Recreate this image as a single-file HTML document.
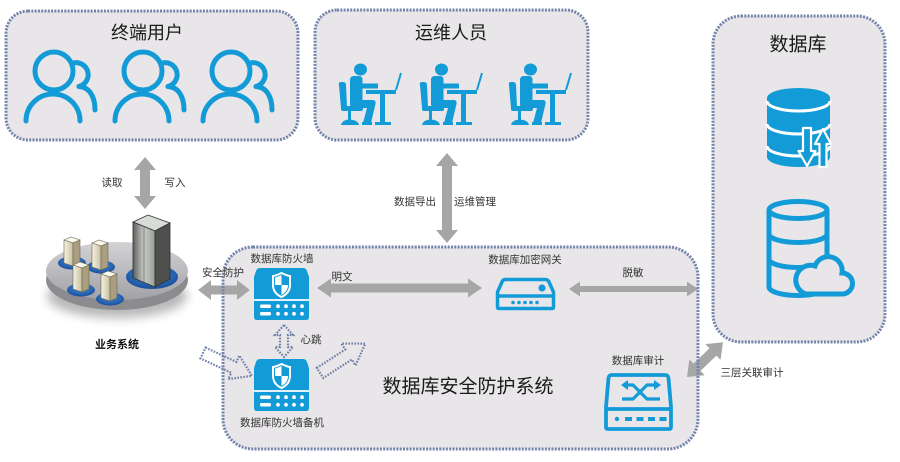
<!DOCTYPE html>
<html><head><meta charset="utf-8"><style>
html,body{margin:0;padding:0;background:#fff;}
svg{display:block;}
text{font-family:"Liberation Sans","Noto Sans CJK SC",sans-serif;}
</style></head><body>
<svg width="900" height="462" viewBox="0 0 900 462" xmlns="http://www.w3.org/2000/svg">
<defs>
  <linearGradient id="plat" x1="0" y1="0" x2="0" y2="1">
    <stop offset="0" stop-color="#d3d3d6"/><stop offset="1" stop-color="#a2a2a6"/>
  </linearGradient>
  <linearGradient id="beige" x1="0" y1="0" x2="1" y2="0">
    <stop offset="0" stop-color="#f6f2e2"/><stop offset="1" stop-color="#c9bf9f"/>
  </linearGradient>
  <linearGradient id="rack" x1="0" y1="0" x2="1" y2="0">
    <stop offset="0" stop-color="#5c5f5c"/><stop offset="0.5" stop-color="#c9cbc6"/><stop offset="1" stop-color="#9a9d98"/>
  </linearGradient>
  <radialGradient id="blueb" cx="0.5" cy="0.4" r="0.6">
    <stop offset="0" stop-color="#3f8fe0"/><stop offset="1" stop-color="#1c4f9c"/>
  </radialGradient>
  <filter id="blur" x="-20%" y="-50%" width="140%" height="200%"><feGaussianBlur stdDeviation="5"/></filter>
  <g id="user" fill="none" stroke="#139bd8" stroke-width="5" stroke-linecap="round">
    <circle cx="31" cy="21" r="19"/>
    <path d="M3 71 A27 27 0 0 1 57 71"/>
    <path d="M50 13 A12 12 0 1 1 56 36.5"/>
    <path d="M56 36.5 C66 37 72 46 72 60"/>
  </g>
  <g id="op" fill="#139bd8">
    <ellipse cx="23.5" cy="6.5" rx="6.5" ry="6"/>
    <path d="M13 17 Q13 13 17 13 H22 Q25.5 13 25.5 17 V20.5 H41 V25.5 H25.5 V37 H36 Q39 37 38.5 41 L34 60 H26 L30 45 H17 Q13 45 13 41 Z"/>
    <rect x="25" y="59" width="10" height="3"/>
    <path d="M2 22 Q1 19 4 19 L6 19 Q9 19 9 22 L10 44 L4 45 Z"/>
    <rect x="4" y="43" width="22" height="5" rx="2"/>
    <rect x="11" y="48" width="3" height="10"/>
    <path d="M4 62 Q5 57 12.5 56.5 Q21 57 22 62 Z"/>
    <rect x="29" y="27" width="30" height="4"/>
    <rect x="43" y="31" width="5" height="29"/>
    <rect x="38" y="59" width="16" height="3"/>
    <line x1="59" y1="27" x2="64" y2="10" stroke="#139bd8" stroke-width="2"/>
  </g>
  <g id="fw">
    <path d="M6 0 H49 Q52 0 53 3 L55 9 V49 Q55 52 52 52 H3 Q0 52 0 49 V9 L2 3 Q3 0 6 0 Z" fill="#139bd8"/>
    <path d="M27.5 5 Q21 8 19 8 V17 Q19 25 27.5 29 Q36 25 36 17 V8 Q34 8 27.5 5 Z" fill="none" stroke="#fff" stroke-width="2"/>
    <path d="M27.5 7 Q22 9.5 21 9.5 V17 H27.5 Z" fill="#fff"/>
    <path d="M27.5 17 H34 Q34 23.5 27.5 27 Z" fill="#fff"/>
    <line x1="0" y1="32" x2="55" y2="32" stroke="#fff" stroke-width="1.8"/>
    <rect x="6" y="36.5" width="11" height="3.5" rx="1.5" fill="#fff"/>
    <rect x="6" y="44" width="11" height="3.5" rx="1.5" fill="#fff"/>
    <g fill="#fff">
      <circle cx="24" cy="38.2" r="1.9"/><circle cx="32" cy="38.2" r="1.9"/><circle cx="40" cy="38.2" r="1.9"/><circle cx="48" cy="38.2" r="1.9"/>
      <circle cx="24" cy="45.8" r="1.9"/><circle cx="32" cy="45.8" r="1.9"/><circle cx="40" cy="45.8" r="1.9"/><circle cx="48" cy="45.8" r="1.9"/>
    </g>
  </g>
</defs>

<!-- panel fills -->
<rect x="6" y="11" width="292" height="129" rx="22" fill="#e8e6e8"/>
<rect x="315" y="10" width="273" height="130" rx="22" fill="#e8e6e8"/>
<rect x="713" y="16" width="172" height="326" rx="28" fill="#e8e6e8"/>
<rect x="223" y="247" width="475" height="202" rx="30" fill="#e8e6e8"/>

<!-- gray arrows -->
<g fill="#a6a6a6">
  <polygon points="145,157 156,170 150,170 150,196 156,196 145,209 134,196 140,196 140,170 134,170"/>
  <polygon points="447,153 458,166 452,166 452,230 458,230 447,243 436,230 442,230 442,166 436,166"/>
  <polygon points="198,290 211,280 211,285.5 237,285.5 237,280 250,290 237,300 237,294.5 211,294.5 211,300"/>
  <polygon points="317,288 331,278.5 331,283.5 468,283.5 468,278.5 482,288 468,297.5 468,292.5 331,292.5 331,297.5"/>
  <polygon points="569,289 580,281.5 580,286 687,286 687,281.5 698,289 687,296.5 687,292 580,292 580,296.5"/>
  <g transform="translate(687,377) rotate(-44)">
    <polygon points="0,0 14,-11 14,-5 36,-5 36,-11 50,0 36,11 36,5 14,5 14,11"/>
  </g>
</g>

<!-- panel borders -->
<g fill="none" stroke="#7384ab" stroke-width="3" stroke-dasharray="2 1.3">
  <rect x="6" y="11" width="292" height="129" rx="22"/>
  <rect x="315" y="10" width="273" height="130" rx="22"/>
  <rect x="713" y="16" width="172" height="326" rx="28"/>
  <rect x="223" y="247" width="475" height="202" rx="30"/>
</g>

<!-- dotted hollow arrows -->
<g fill="none" stroke="#6f80a8" stroke-width="2.2" stroke-dasharray="1.6 1.4">
  <g transform="translate(203,353) rotate(25)"><polygon points="0,-6 34,-6 34,-13 54,0 34,13 34,6 0,6"/></g>
  <g transform="translate(320,373) rotate(-33)"><polygon points="0,-6 34,-6 34,-13 54,0 34,13 34,6 0,6"/></g>
  <polygon points="284,325 293,335 288,335 288,347 293,347 284,357 275,347 280,347 280,335 275,335"/>
</g>

<!-- users -->
<use href="#user" x="23" y="50"/>
<use href="#user" x="112" y="50"/>
<use href="#user" x="200" y="50"/>

<!-- operators -->
<use href="#op" x="337" y="63"/>
<use href="#op" x="418" y="63"/>
<use href="#op" x="507" y="63"/>

<!-- DB icon 1 -->
<g>
  <path d="M767 98 A31.5 10 0 0 1 830 98 V157 A31.5 10 0 0 1 767 157 Z" fill="#139bd8"/>
  <g fill="none" stroke="#fff" stroke-width="3">
    <path d="M767 101 A31.5 10 0 0 0 830 101"/>
    <path d="M767 124 A31.5 10 0 0 0 830 124"/>
    <path d="M767 146 A31.5 10 0 0 0 830 146"/>
  </g>
  <g fill="#139bd8" stroke="#fff" stroke-width="2.2" stroke-linejoin="round">
    <polygon points="803,128 811,128 811,151 815.5,151 807,166 798.5,151 803,151"/>
    <polygon points="823,129 831,144 826.5,144 826.5,167 819.5,167 819.5,144 815,144"/>
  </g>
</g>

<!-- DB icon 2 -->
<g fill="none" stroke="#139bd8" stroke-width="5">
  <ellipse cx="798" cy="210" rx="29" ry="8.5"/>
  <path d="M769 210 V287 A29 8.5 0 0 0 827 287 V210"/>
  <path d="M769 234 A29 8.5 0 0 0 827 234"/>
  <path d="M769 259 A29 8.5 0 0 0 827 259"/>
  <path d="M806 294 H842 A10.5 10.5 0 0 0 842 273 A14 14 0 0 0 815 266 A14 14 0 0 0 806 294 Z" fill="#e8e6e8"/>
</g>

<!-- firewalls -->
<use href="#fw" x="254" y="268"/>
<use href="#fw" x="254" y="359"/>

<!-- gateway -->
<g fill="none" stroke="#139bd8" stroke-width="3.5" stroke-linejoin="round">
  <path d="M505 279.5 H545 Q548 279.5 549 282 L553.5 292 V307 Q553.5 308.5 552 308.5 H499 Q497.5 308.5 497.5 307 V292 L502 282 Q503 279.5 505 279.5 Z"/>
  <line x1="497.5" y1="296" x2="553.5" y2="296"/>
</g>
<g fill="#139bd8">
  <circle cx="542" cy="288" r="3.6"/>
  <circle cx="513" cy="302.5" r="1.8"/><circle cx="519" cy="302.5" r="1.8"/><circle cx="525" cy="302.5" r="1.8"/><circle cx="531" cy="302.5" r="1.8"/><circle cx="537" cy="302.5" r="1.8"/>
</g>

<!-- audit -->
<g fill="none" stroke="#139bd8" stroke-width="3.8" stroke-linejoin="round">
  <path d="M612 375 H665 Q668 375 668.5 378 L671 407 V427 Q671 429 669 429 H608 Q606 429 606 427 V407 L608.5 378 Q609 375 612 375 Z"/>
  <line x1="606" y1="409" x2="671" y2="409"/>
  <path d="M622 399 H633 L647 385 H655" stroke-width="3.2"/>
  <path d="M627 385 H633 L647 399 H660" stroke-width="3.2"/>
</g>
<g fill="#139bd8">
  <polygon points="621,385 628,380 628,390"/>
  <polygon points="661,385 654,380 654,390"/>
  <circle cx="617" cy="419" r="2.2"/>
  <rect x="625" y="417" width="7" height="4"/><rect x="636.5" y="417" width="7" height="4"/><rect x="648" y="417" width="7" height="4"/><rect x="659.5" y="417" width="7" height="4"/>
</g>

<!-- business system -->
<g>
  <ellipse cx="117" cy="296" rx="70" ry="22" fill="#9a9a9a" filter="url(#blur)" opacity="0.7"/>
  <ellipse cx="117" cy="280" rx="71" ry="30" fill="#8c8c90"/>
  <ellipse cx="117" cy="271" rx="71" ry="29" fill="url(#plat)"/>
  <ellipse cx="152" cy="277" rx="26" ry="12" fill="url(#blueb)"/>
  <ellipse cx="72" cy="263" rx="14" ry="6.5" fill="url(#blueb)"/>
  <ellipse cx="101" cy="267" rx="14" ry="6.5" fill="url(#blueb)"/>
  <ellipse cx="81" cy="290" rx="14" ry="6.5" fill="url(#blueb)"/>
  <ellipse cx="110" cy="299" rx="14" ry="6.5" fill="url(#blueb)"/>
  <g stroke="#6b664f" stroke-width="0.6">
    <polygon points="64,240 71,237 80,240 73,243" fill="#fbf8ec"/>
    <polygon points="64,240 73,243 73,266 64,263" fill="url(#beige)"/>
    <polygon points="73,243 80,240 80,263 73,266" fill="#a99f80"/>
    <polygon points="92,243 99,240 108,243 101,246" fill="#fbf8ec"/>
    <polygon points="92,243 101,246 101,270 92,267" fill="url(#beige)"/>
    <polygon points="101,246 108,243 108,267 101,270" fill="#a99f80"/>
    <polygon points="73,265 80,262 89,265 82,268" fill="#fbf8ec"/>
    <polygon points="73,265 82,268 82,292 73,289" fill="url(#beige)"/>
    <polygon points="82,268 89,265 89,289 82,292" fill="#a99f80"/>
    <polygon points="101,274 108,271 117,274 110,277" fill="#fbf8ec"/>
    <polygon points="101,274 110,277 110,301 101,298" fill="url(#beige)"/>
    <polygon points="110,277 117,274 117,298 110,301" fill="#a99f80"/>
  </g>
  <g stroke="#2e302e" stroke-width="0.8">
    <polygon points="133,222 148,215 170,223 155,231" fill="#d9dbd6"/>
    <polygon points="133,222 155,231 155,287 133,278" fill="url(#rack)"/>
    <polygon points="155,231 170,223 170,279 155,287" fill="#4d504d"/>
    <line x1="144" y1="227" x2="144" y2="282" stroke="#6f726f"/>
  </g>
</g>

<!-- texts -->
<g fill="#1a1a1a" text-anchor="middle" dominant-baseline="central">
  <text x="147" y="33" font-size="18">终端用户</text>
  <text x="451" y="33" font-size="18">运维人员</text>
  <text x="798" y="45" font-size="19">数据库</text>
  <text x="468" y="387" font-size="19">数据库安全防护系统</text>
</g>
<g fill="#333" text-anchor="middle" dominant-baseline="central" font-size="10.5">
  <text x="112" y="183">读取</text>
  <text x="175" y="183">写入</text>
  <text x="415" y="202">数据导出</text>
  <text x="475" y="202">运维管理</text>
  <text x="223" y="273">安全防护</text>
  <text x="282" y="259">数据库防火墙</text>
  <text x="342" y="277">明文</text>
  <text x="525" y="260">数据库加密网关</text>
  <text x="633" y="273">脱敏</text>
  <text x="311" y="340">心跳</text>
  <text x="282" y="423">数据库防火墙备机</text>
  <text x="638" y="361">数据库审计</text>
  <text x="752" y="373">三层关联审计</text>
  <text x="117" y="345" font-size="11" font-weight="bold" fill="#111">业务系统</text>
</g>
</svg>
</body></html>
